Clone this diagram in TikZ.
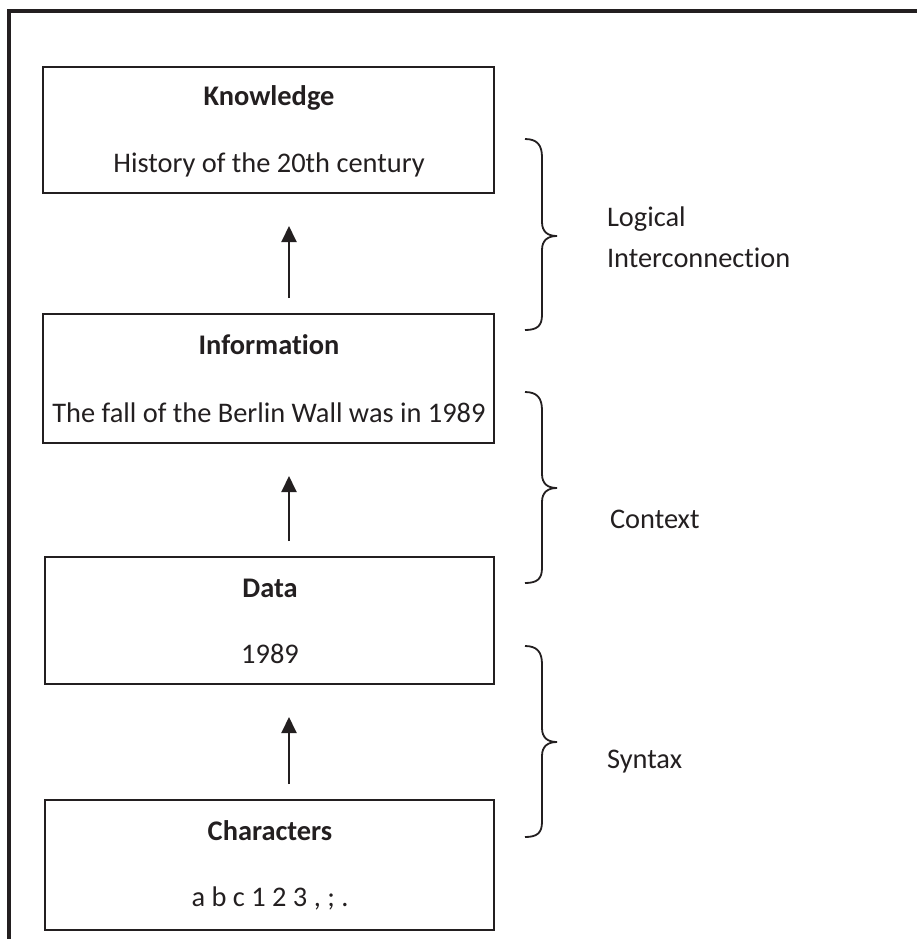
\documentclass[tikz,border=0pt]{standalone}
\usepackage{fontspec}
\setmainfont[Ligatures={NoCommon}]{Carlito}
\usetikzlibrary{arrows.meta}
\definecolor{ink}{HTML}{231F20}
\begin{document}
\begin{tikzpicture}[x=0.5pt,y=-0.5pt,
  every node/.style={text=ink,font=\fontsize{14.2}{17}\selectfont},
  stagebox/.style={draw=ink,line width=1pt,inner sep=0pt,outer sep=0pt,minimum width=225.5pt},
  title/.style={anchor=base,font=\fontsize{14.2}{17}\selectfont\bfseries},
  body/.style={anchor=base},
  side/.style={anchor=base west},
  uparrow/.style={draw=ink,line width=1pt,-{Triangle[length=8pt,width=7.5pt]}},
  brace/.style={draw=ink,line width=0.9pt}]
\useasboundingbox (0,0) rectangle (917,939);
% outer frame (top and left edges)
\draw[ink,line width=1.6pt] (9,939) -- (9,11) -- (920,11);

% stage boxes
\node[stagebox,minimum height=63pt]   (know) at (268.5,130)   {};
\node[stagebox,minimum height=64.5pt] (info) at (268.5,378.5) {};
\node[stagebox,minimum height=63.5pt,minimum width=224.5pt] (data) at (269.5,620.5) {};
\node[stagebox,minimum height=65pt,minimum width=224.5pt]   (chars) at (269.5,865) {};

% box texts
\node[title] (knowT) at (269,105) {Knowledge};
\node[body]  (knowB) at (269,172) {History of the 20th century};
\node[title] (infoT) at (269,354) {Information};
\node[body]  (infoB) at (269,422) {The fall of the Berlin Wall was in 1989};
\node[title] (dataT) at (270,597) {Data};
\node[body]  (dataB) at (270,663) {1989};
\node[title] (charT) at (270,840) {Characters};
\node[body]  (charB) at (270,906) {a b c 1 2 3 , ; .};

% arrows between stages
\coordinate (ax) at (289,0);
\draw[uparrow,shorten <=8pt,shorten >=16.5pt] (info.north -| ax) -- (know.south -| ax);
\draw[uparrow,shorten <=8pt,shorten >=16.5pt] (data.north -| ax) -- (info.south -| ax);
\draw[uparrow,shorten <=8pt,shorten >=16.5pt] (chars.north -| ax) -- (data.south -| ax);

% braces
\draw[brace] (525,139) .. controls (537,139) and (542,145) .. (542,157) -- (542,222)
  .. controls (542,232) and (548,236) .. (557,236)
  .. controls (548,236) and (542,240) .. (542,250) -- (542,315)
  .. controls (542,326) and (537,330) .. (525,330);
\draw[brace] (525,392) .. controls (537,392) and (542,398) .. (542,410) -- (542,474)
  .. controls (542,484) and (548,488) .. (557,488)
  .. controls (548,488) and (542,492) .. (542,502) -- (542,568)
  .. controls (542,579) and (537,583) .. (525,583);
\draw[brace] (525,646) .. controls (537,646) and (542,652) .. (542,664) -- (542,728)
  .. controls (542,738) and (548,742) .. (557,742)
  .. controls (548,742) and (542,746) .. (542,756) -- (542,822)
  .. controls (542,833) and (537,837) .. (525,837);

% brace labels
\node[side] (lg1) at (600,226) {Logical};
\node[side] (lg2) at (600,267) {Interconnection};
\node[side] (ctx) at (603,528) {Context};
\node[side] (syn) at (600,768) {Syntax};
\end{tikzpicture}
\end{document}
